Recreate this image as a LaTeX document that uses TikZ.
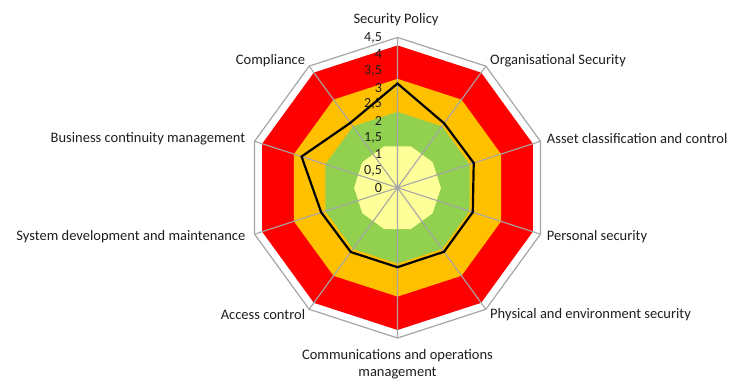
\documentclass[tikz,border=0pt]{standalone}
\usepackage{fontspec}
\setmainfont{Carlito}
\definecolor{bandred}{RGB}{255,0,0}
\definecolor{bandorange}{RGB}{255,192,0}
\definecolor{bandgreen}{RGB}{146,208,80}
\definecolor{bandyellow}{RGB}{255,255,153}
\definecolor{gridgrey}{RGB}{166,166,166}
\definecolor{labeltext}{RGB}{30,30,30}
\begin{document}
\begin{tikzpicture}[x=33.4pt,y=33.4pt,
		axislbl/.style={font=\fontsize{14.5}{17.7}\selectfont,text=labeltext,inner sep=0pt},
		ticklbl/.style={font=\fontsize{14}{16}\selectfont,text=labeltext,inner sep=0pt,anchor=east}]
		\useasboundingbox (-11.901,-5.728) rectangle (9.985,5.620);
		
		\fill[bandred](90:4.26)--(54:4.26)--(18:4.26)--(-18:4.26)--(-54:4.26)
		--(-90:4.26)--(-126:4.26)--(-162:4.26)--(162:4.26)--(126:4.26)--cycle;
		\fill[bandorange](90:3.26)--(54:3.26)--(18:3.26)--(-18:3.26)--(-54:3.26)
		--(-90:3.26)--(-126:3.26)--(-162:3.26)--(162:3.26)--(126:3.26)--cycle;
		\fill[bandgreen](90:2.27)--(54:2.27)--(18:2.27)--(-18:2.27)--(-54:2.27)
		--(-90:2.27)--(-126:2.27)--(-162:2.27)--(162:2.27)--(126:2.27)--cycle;
		\fill[bandyellow](0:1.3)--(36:1.3)--(72:1.3)--(108:1.3)--(144:1.3)
		--(180:1.3)--(216:1.3)--(252:1.3)--(288:1.3)--(324:1.3)--cycle;
		
		\draw[line width=1.2pt][gridgrey](90:4.5)--(54:4.5)--(18:4.5)--(-18:4.5)--(-54:4.5)
		--(-90:4.5)--(-126:4.5)--(-162:4.5)--(162:4.5)--(126:4.5)--cycle;
		\draw[line width=1.1pt][gridgrey](0,0)--(90:4.5) (0,0)--(54:4.5) (0,0)--(18:4.5)
		(0,0)--(-18:4.5) (0,0)--(-54:4.5) (0,0)--(-90:4.5) (0,0)--(-126:4.5)
		(0,0)--(-162:4.5) (0,0)--(162:4.5) (0,0)--(126:4.5);
		
		\node[ticklbl] (t0) at (-0.46,0) {0};
		\node[ticklbl] (t1) at (-0.46,0.5) {0,5};
		\node[ticklbl] (t2) at (-0.46,1) {1};
		\node[ticklbl] (t3) at (-0.46,1.5) {1,5};
		\node[ticklbl] (t4) at (-0.46,2) {2};
		\node[ticklbl] (t5) at (-0.46,2.5) {2,5};
		\node[ticklbl] (t6) at (-0.46,3) {3};
		\node[ticklbl] (t7) at (-0.46,3.5) {3,5};
		\node[ticklbl] (t8) at (-0.46,4) {4};
		\node[ticklbl] (t9) at (-0.46,4.5) {4,5};
		
		\draw[line width=2.2pt][black][line join=miter](90:3.12)--(54:2.38)--(18:2.4)--(-18:2.37)--(-54:2.37)
		--(-90:2.38)--(-126:2.38)--(-162:2.4)--(162:3.02)--(126:2.4)--cycle;
		
		\node[axislbl] (sp) at (-0.045,5.02) {Security Policy};
		\node[axislbl][anchor=west] (os) at (2.77,3.80) {Organisational Security};
		\node[axislbl][anchor=west] (acc) at (4.47,1.48) {Asset classification and control};
		\node[axislbl][anchor=west] (ps) at (4.47,-1.47) {Personal security};
		\node[axislbl][anchor=west] (pe) at (2.77,-3.81) {Physical and environment security};
		\node[axislbl][align=center] (com) at (0,-5.28) {Communications and operations\\management};
		\node[axislbl][anchor=east] (ac) at (-2.76,-3.81) {Access control};
		\node[axislbl][anchor=east] (sd) at (-4.55,-1.47) {System development and maintenance};
		\node[axislbl][anchor=east] (bc) at (-4.55,1.48) {Business continuity management};
		\node[axislbl][anchor=east] (cp) at (-2.76,3.80) {Compliance};
	\end{tikzpicture}
\end{document}
